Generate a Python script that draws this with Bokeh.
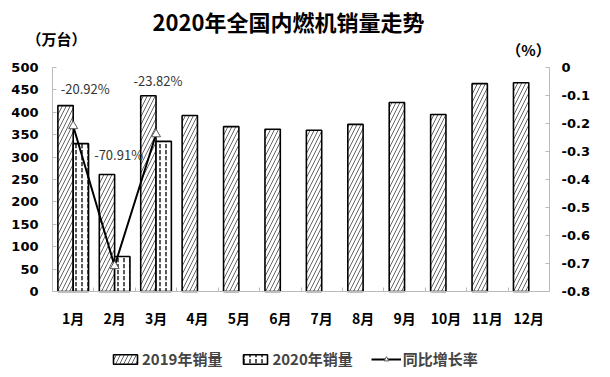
from bokeh.plotting import figure
from bokeh.models import (ColumnDataSource, Range1d, LinearAxis, FixedTicker,
                          CustomJSTickFormatter, Label, Legend, LegendItem)
from bokeh.embed import file_html
from bokeh.resources import INLINE

months = ["1月", "2月", "3月", "4月", "5月", "6月", "7月", "8月", "9月", "10月", "11月", "12月"]
sales_2019 = [415, 261, 437, 393, 368, 362, 360, 373, 422, 395, 464, 466]
sales_2020 = [330, 78, 335]
growth = [-0.2092, -0.7091, -0.2382]
growth_labels = ["-20.92%", "-70.91%", "-23.82%"]
left_ticks = [0, 50, 100, 150, 200, 250, 300, 350, 400, 450, 500]
right_ticks = [0, -0.1, -0.2, -0.3, -0.4, -0.5, -0.6, -0.7, -0.8]

CJK = "Noto Sans CJK SC"
NUM = "DejaVu Sans"

# page layout: plot area from x=52..549, y=67..291 (pixels)
W, H = 610, 377
L, R, T, B = 52, 549, 67, 291
ncat = len(months)
u = (R - L) / ncat              # px per category
ky = (B - T) / 500              # px per unit (left axis)
kp = (B - T) / 0.8              # px per unit (right axis)

def xd(px):
    return (px - L) / u

def yd(py):
    return (B - py) / ky

p = figure(width=W, height=H, x_range=Range1d(xd(0), xd(W)), y_range=Range1d(yd(H), yd(0)),
           output_backend="svg", toolbar_location=None,
           min_border_left=0, min_border_right=0, min_border_top=0, min_border_bottom=0)
p.extra_y_ranges = {"pct": Range1d(-(H - T) / kp, T / kp)}
p.outline_line_color = None
p.xgrid.grid_line_color = None
p.ygrid.grid_line_color = None
p.background_fill_color = "white"
p.border_fill_color = "white"

idx = list(range(ncat))
src19 = ColumnDataSource(dict(x=[i + 0.5 - 0.185 for i in idx], v=sales_2019))
src20 = ColumnDataSource(dict(x=[i + 0.5 + 0.185 for i in idx[:len(sales_2020)]], v=sales_2020))
srcg = ColumnDataSource(dict(x=[i + 0.5 for i in idx[:len(growth)]], g=growth))

r19 = p.vbar(x="x", top="v", bottom=0, width=0.37, source=src19,
             fill_color="white", line_color="black", line_width=1.6,
             hatch_pattern="right_diagonal_line", hatch_color="#666666", hatch_scale=8, hatch_weight=1)
r20 = p.vbar(x="x", top="v", bottom=0, width=0.37, source=src20,
             fill_color="white", line_color="black", line_width=1.6,
             hatch_pattern="vertical_dash", hatch_color="#222222", hatch_scale=6, hatch_weight=1.5)
rl = p.line(x="x", y="g", source=srcg, y_range_name="pct", line_color="black", line_width=2)
rm = p.scatter(x="x", y="g", source=srcg, y_range_name="pct", marker="triangle", size=9,
               fill_color="white", line_color="#555555", line_width=1)

# data labels (pixel offsets from each point)
offs_x = [12, 4, 2]
offs_up = [38, 112, 54]
for i in range(len(growth)):
    p.add_layout(Label(x=i + 0.5, y=growth[i], y_range_name="pct", text=growth_labels[i],
                       x_offset=offs_x[i], y_offset=offs_up[i], text_align="center",
                       text_baseline="middle", text_font=CJK, text_font_size="13px",
                       text_color="#333333"))

# axes, pinned at fixed locations
ya = p.yaxis[0]
ya.ticker = FixedTicker(ticks=left_ticks)
ya.fixed_location = 0
ya.bounds = (0, 500)
rax = LinearAxis(y_range_name="pct", ticker=FixedTicker(ticks=right_ticks),
                 formatter=CustomJSTickFormatter(code="return (Math.round(tick*10)/10).toString();"),
                 fixed_location=ncat, bounds=(-0.8, 0))
p.add_layout(rax, "right")
for ax in [ya, rax]:
    ax.axis_line_color = "#bbbbbb"
    ax.major_tick_line_color = "#bbbbbb"
    ax.major_tick_in = 4
    ax.major_tick_out = 0
    ax.minor_tick_line_color = None
    ax.major_label_text_font = NUM
    ax.major_label_text_font_style = "bold"
    ax.major_label_text_font_size = "13px"
    ax.major_label_text_color = "black"
ya.major_label_standoff = 14
rax.major_label_standoff = 12

xa = p.xaxis[0]
xa.ticker = FixedTicker(ticks=[i + 0.5 for i in idx], minor_ticks=list(range(ncat + 1)))
xa.formatter = CustomJSTickFormatter(args=dict(months=months),
                                     code="return months[Math.floor(tick)];")
xa.fixed_location = 0
xa.bounds = (0, ncat)
xa.axis_line_color = "#bbbbbb"
xa.major_tick_line_color = None
xa.minor_tick_line_color = "#bbbbbb"
xa.minor_tick_in = 4
xa.minor_tick_out = 0
xa.major_label_text_font = CJK
xa.major_label_text_font_style = "bold"
xa.major_label_text_font_size = "14px"
xa.major_label_text_color = "black"
xa.major_label_standoff = 10

# titles
p.add_layout(Label(x=xd(288), y=yd(20), text="2020年全国内燃机销量走势",
                   text_align="center", text_baseline="middle", text_font=CJK, text_font_style="bold",
                   text_font_size="22px", text_color="black"))
p.add_layout(Label(x=xd(56), y=yd(38), text="（万台）",
                   text_align="center", text_baseline="middle", text_font=CJK, text_font_style="bold",
                   text_font_size="15px", text_color="black"))
p.add_layout(Label(x=xd(528), y=yd(49), text="（%）",
                   text_align="center", text_baseline="middle", text_font=CJK, text_font_style="bold",
                   text_font_size="15px", text_color="black"))

legend = Legend(items=[LegendItem(label="2019年销量", renderers=[r19]),
                       LegendItem(label="2020年销量", renderers=[r20]),
                       LegendItem(label="同比增长率", renderers=[rl, rm])],
                orientation="horizontal", location=(110, 8), glyph_width=30, glyph_height=12,
                label_text_font=CJK, label_text_font_style="bold", label_text_font_size="15px",
                spacing=18, padding=0, margin=0, border_line_color=None, background_fill_alpha=0,
                label_standoff=2)
p.add_layout(legend)

open("out.html", "w").write(file_html(p, INLINE))
